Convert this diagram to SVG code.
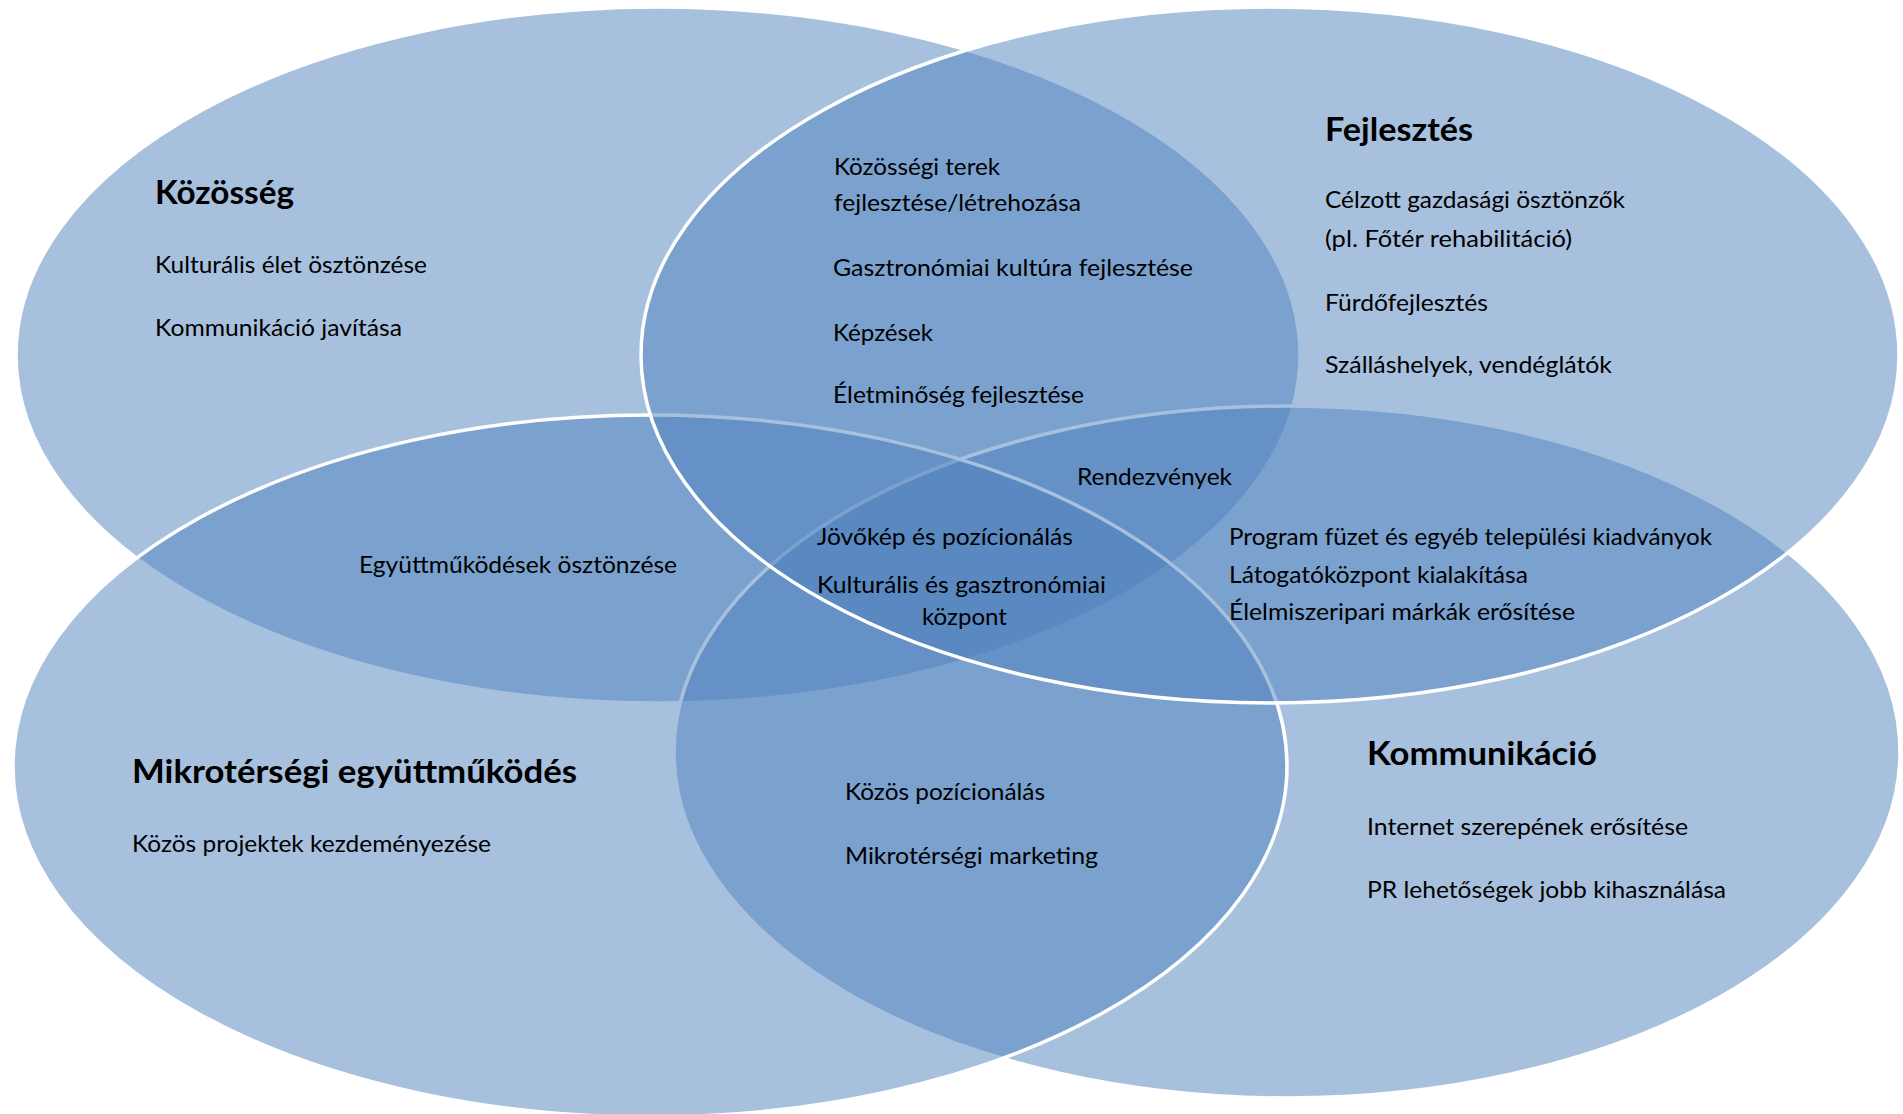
<svg xmlns="http://www.w3.org/2000/svg" width="1903" height="1114" viewBox="0 0 1903 1114">
<style>
.set{fill:#4F81BD;fill-opacity:0.5;stroke:#FFFFFF;stroke-width:3.5}
text{font-family:Lato,"Open Sans","Liberation Sans",sans-serif;fill:#000000}
.t{font-size:24px}
.h{font-size:32px;font-weight:bold}
</style>
<rect width="1903" height="1114" fill="#FFFFFF"/>
<g id="kozosseg">
<ellipse class="set" cx="658" cy="355" rx="642" ry="348"/>
<text class="h" x="155" y="204" textLength="139" lengthAdjust="spacingAndGlyphs">Közösség</text>
<text class="t" x="155" y="273" textLength="272" lengthAdjust="spacingAndGlyphs">Kulturális élet ösztönzése</text>
<text class="t" x="155" y="336" textLength="247" lengthAdjust="spacingAndGlyphs">Kommunikáció javítása</text>
</g>
<g id="kommunikacio">
<ellipse class="set" cx="1287" cy="752" rx="613" ry="346"/>
<text class="h" x="1367" y="765" textLength="230" lengthAdjust="spacingAndGlyphs">Kommunikáció</text>
<text class="t" x="1367" y="835" textLength="321" lengthAdjust="spacingAndGlyphs">Internet szerepének erősítése</text>
<text class="t" x="1367" y="898" textLength="359" lengthAdjust="spacingAndGlyphs">PR lehetőségek jobb kihasználása</text>
</g>
<g id="mikrotersegi">
<ellipse class="set" cx="650" cy="766" rx="637" ry="351"/>
<text class="h" x="132" y="783" textLength="445" lengthAdjust="spacingAndGlyphs">Mikrotérségi együttműködés</text>
<text class="t" x="132" y="852" textLength="359" lengthAdjust="spacingAndGlyphs">Közös projektek kezdeményezése</text>
</g>
<g id="fejlesztes">
<ellipse class="set" cx="1270" cy="355" rx="629" ry="348"/>
<text class="h" x="1325" y="141" textLength="148" lengthAdjust="spacingAndGlyphs">Fejlesztés</text>
<text class="t" x="1325" y="208" textLength="300" lengthAdjust="spacingAndGlyphs">Célzott gazdasági ösztönzők</text>
<text class="t" x="1325" y="247" textLength="247" lengthAdjust="spacingAndGlyphs">(pl. Főtér rehabilitáció)</text>
<text class="t" x="1325" y="311" textLength="163" lengthAdjust="spacingAndGlyphs">Fürdőfejlesztés</text>
<text class="t" x="1325" y="373" textLength="287" lengthAdjust="spacingAndGlyphs">Szálláshelyek, vendéglátók</text>
</g>
<g id="kozosseg-fejlesztes">
<text class="t" x="834" y="175" textLength="166" lengthAdjust="spacingAndGlyphs">Közösségi terek</text>
<text class="t" x="834" y="211" textLength="247" lengthAdjust="spacingAndGlyphs">fejlesztése/létrehozása</text>
<text class="t" x="833" y="276" textLength="360" lengthAdjust="spacingAndGlyphs">Gasztronómiai kultúra fejlesztése</text>
<text class="t" x="833" y="341" textLength="100" lengthAdjust="spacingAndGlyphs">Képzések</text>
<text class="t" x="833" y="403" textLength="251" lengthAdjust="spacingAndGlyphs">Életminőség fejlesztése</text>
</g>
<g id="kozosseg-fejlesztes-kommunikacio">
<text class="t" x="1077" y="485" textLength="155" lengthAdjust="spacingAndGlyphs">Rendezvények</text>
</g>
<g id="kozep">
<text class="t" x="817" y="545" textLength="256" lengthAdjust="spacingAndGlyphs">Jövőkép és pozícionálás</text>
<text class="t" x="817" y="593" textLength="289" lengthAdjust="spacingAndGlyphs">Kulturális és gasztronómiai</text>
<text class="t" x="922" y="625" textLength="85" lengthAdjust="spacingAndGlyphs">központ</text>
</g>
<g id="kozosseg-mikrotersegi">
<text class="t" x="359" y="573" textLength="318" lengthAdjust="spacingAndGlyphs">Együttműködések ösztönzése</text>
</g>
<g id="fejlesztes-kommunikacio">
<text class="t" x="1229" y="545" textLength="483" lengthAdjust="spacingAndGlyphs">Program füzet és egyéb települési kiadványok</text>
<text class="t" x="1229" y="583" textLength="299" lengthAdjust="spacingAndGlyphs">Látogatóközpont kialakítása</text>
<text class="t" x="1229" y="620" textLength="346" lengthAdjust="spacingAndGlyphs">Élelmiszeripari márkák erősítése</text>
</g>
<g id="mikrotersegi-kommunikacio">
<text class="t" x="845" y="800" textLength="200" lengthAdjust="spacingAndGlyphs">Közös pozícionálás</text>
<text class="t" x="845" y="864" textLength="253" lengthAdjust="spacingAndGlyphs">Mikrotérségi marketing</text>
</g>
</svg>
